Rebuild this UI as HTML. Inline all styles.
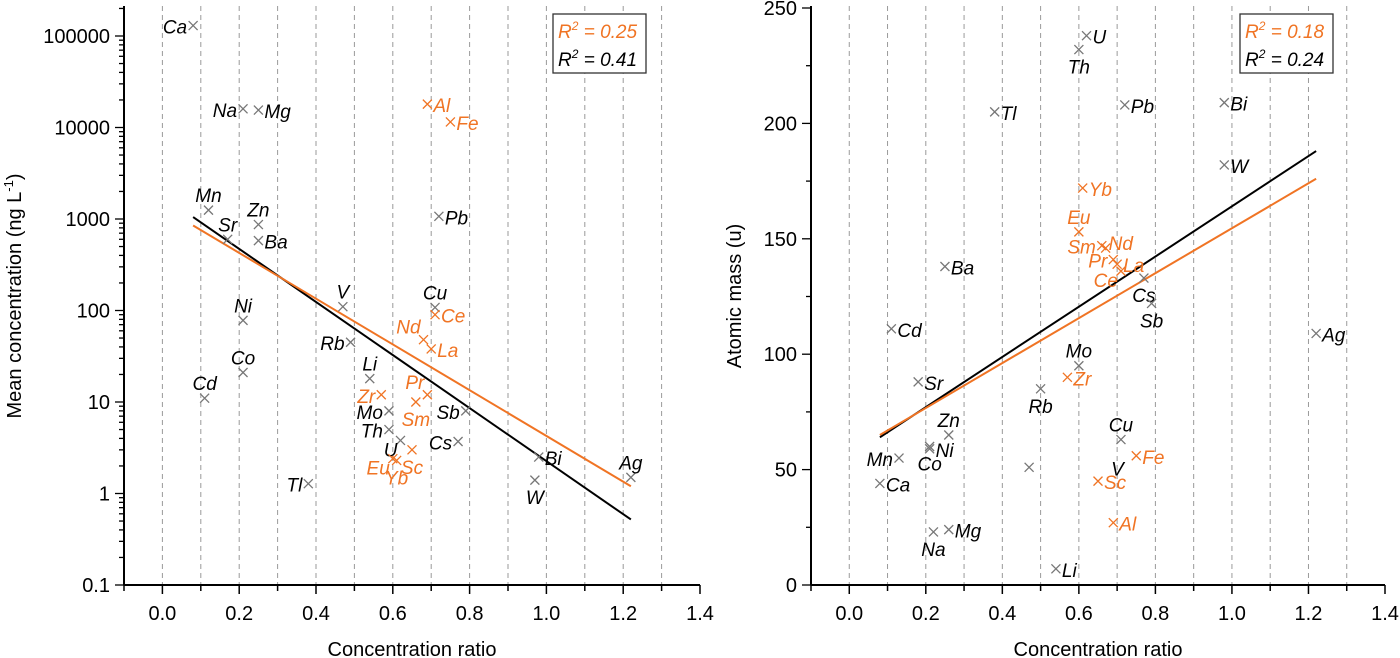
<!DOCTYPE html>
<html><head><meta charset="utf-8">
<style>
html,body{margin:0;padding:0;background:#fff;}
svg{display:block;font-family:"Liberation Sans",Arial,sans-serif;}
</style></head>
<body>
<svg id="chart" width="1400" height="658" viewBox="0 0 1400 658" xmlns="http://www.w3.org/2000/svg"></svg>
<script>
// ---- Left panel data (concentration ratio vs mean concentration) ----
const leftNames = ["Ca","Na","Mg","Mn","Sr","Zn","Ba","Pb","Al","Fe","V","Cu","Ce","Nd","La","Ni","Rb","Co","Li","Cd","Zr","Pr","Sm","Mo","Sb","Th","U","Cs","Sc","Eu","Yb","Bi","W","Ag","Tl"];
const leftX = [0.08,0.21,0.25,0.12,0.17,0.25,0.25,0.72,0.69,0.75,0.47,0.71,0.71,0.68,0.70,0.21,0.49,0.21,0.54,0.11,0.57,0.69,0.66,0.59,0.79,0.59,0.62,0.77,0.65,0.60,0.61,0.98,0.97,1.22,0.38];
const leftY = [130000,16000,15500,1250,600,870,580,1070,18000,11500,110,108,90,48,38,78,45,21,18,11,12,12,10,8,8,5,3.8,3.7,3,2.4,2.3,2.5,1.4,1.5,1.28];
const leftOrange = [0,0,0,0,0,0,0,0,1,1,0,0,1,1,1,0,0,0,0,0,1,1,1,0,0,0,0,0,1,1,1,0,0,0,0];
const leftLabelSide = ["l","l","r","t","t","t","r","r","r","r","t","t","r","tl","r","t","l","t","t","t","l","tl","b","l","l","l","bl","l","b","bl","b","r","b","t","l"];
const leftBlackFit = [[0.08,1050],[1.22,0.52]];
const leftOrangeFit = [[0.08,850],[1.22,1.2]];
const leftR2 = ["0.25","0.41"];
const leftYTicks = [0.1,1,10,100,1000,10000,100000];
const leftYTickLabels = ["0.1","1","10","100","1000","10000","100000"];

// ---- Right panel data (concentration ratio vs atomic mass) ----
const rightNames = ["U","Th","Tl","Pb","Bi","W","Yb","Eu","Nd","Sm","Pr","La","Ce","Ba","Cs","Sb","Cd","Ag","Mo","Zr","Sr","Rb","Zn","Cu","Ni","Co","Fe","Mn","V","Sc","Ca","Al","Mg","Na","Li"];
const rightX = [0.62,0.60,0.38,0.72,0.98,0.98,0.61,0.60,0.67,0.66,0.69,0.70,0.71,0.25,0.77,0.79,0.11,1.22,0.60,0.57,0.18,0.50,0.26,0.71,0.21,0.21,0.75,0.13,0.47,0.65,0.08,0.69,0.26,0.22,0.54];
const rightY = [238,232,205,208,209,182,172,153,146,147,141,139,136,138,133,122,111,109,95,90,88,85,65,63,59,60,56,55,51,45,44,27,24,23,7];
const rightOrange = [0,0,0,0,0,0,1,1,1,1,1,1,1,0,0,0,0,0,0,1,0,0,0,0,0,0,1,0,0,1,0,1,0,0,0];
const rightLabelSide = ["r","b","r","r","r","r","r","t","tr","l","l","r","bl","r","b","b","r","r","t","r","r","b","t","t","r","b","r","l","none","r","r","r","r","b","r"];
const rightBlackFit = [[0.08,64],[1.22,188]];
const rightOrangeFit = [[0.08,65],[1.22,176]];
const rightR2 = ["0.18","0.24"];
const rightYTicks = [0,50,100,150,200,250];

const xTicks = [0.0,0.2,0.4,0.6,0.8,1.0,1.2,1.4];
const xGrid = [0.0,0.1,0.2,0.3,0.4,0.5,0.6,0.7,0.8,0.9,1.0,1.1,1.2,1.3];

const NS="http://www.w3.org/2000/svg";
const svg=document.getElementById('chart');
const ORANGE="#f07424";
function el(tag,attrs,parent,text){const e=document.createElementNS(NS,tag);for(const k in attrs)e.setAttribute(k,attrs[k]);if(text!==undefined)e.textContent=text;(parent||svg).appendChild(e);return e;}

function panel(cfg){
  const g=el('g',{});
  
  
  const X=v=>cfg.x0+(v+0.1)/1.5*(cfg.x1-cfg.x0);
  const Y=cfg.yScale;
  xGrid.forEach(v=>{const l=el('line',{x1:X(v),x2:X(v),y1:cfg.top,y2:cfg.bottom,stroke:'#9a9a9a','stroke-width':1,'stroke-dasharray':'5,4'},g);
    });
  const ya=el('line',{x1:cfg.x0,x2:cfg.x0,y1:cfg.top,y2:cfg.bottom,stroke:'#000','stroke-width':2},g);
  
  const xa=el('line',{x1:cfg.x0,x2:cfg.x1,y1:cfg.bottom,y2:cfg.bottom,stroke:'#000','stroke-width':2},g);
  
  for(let i=-1;i<=14;i++){const v=i/10;const major=(i%2===0);
    el('line',{x1:X(v),x2:X(v),y1:cfg.bottom,y2:cfg.bottom+(major?9:6),stroke:'#000','stroke-width':1.5},g);}
  xTicks.forEach(v=>{const t=el('text',{x:X(v),y:cfg.bottom+35,'font-size':20,'text-anchor':'middle'},g,v.toFixed(1));
    });
  const xt=el('text',{x:(cfg.x0+cfg.x1)/2,y:656,'font-size':20,'text-anchor':'middle'},g,'Concentration ratio');
  
  cfg.yTicks(g,X,Y);
  [[cfg.blackFit,'#000','fit-line-all'],[cfg.orangeFit,ORANGE,'fit-line-subset']].forEach(([f,c,n])=>{
    const l=el('line',{x1:X(f[0][0]),y1:Y(f[0][1]),x2:X(f[1][0]),y2:Y(f[1][1]),stroke:c,'stroke-width':2},g);
    });
  cfg.names.forEach((nm,i)=>{
    const px=X(cfg.xs[i]),py=Y(cfg.ys[i]);const col=cfg.orange[i]?ORANGE:'#777';
    const m=el('path',{d:`M${px-4.5},${py-4.5}L${px+4.5},${py+4.5}M${px-4.5},${py+4.5}L${px+4.5},${py-4.5}`,stroke:col,'stroke-width':1.3,fill:'none'},g);
    
    const s=cfg.side[i];
    let tx=px,ty=py+7,anc='start';
    if(s==='r'){tx=px+6;ty=py+8;}
    else if(s==='l'){tx=px-6;ty=py+8;anc='end';}
    else if(s==='t'){tx=px;ty=py-8;anc='middle';}
    else if(s==='b'){tx=px;ty=py+24;anc='middle';}
    else if(s==='tl'){tx=px-3;ty=py-6;anc='end';}
    else if(s==='tr'){tx=px+3;ty=py+2;}
    else if(s==='bl'){tx=px-3;ty=py+16;anc='end';}
    else if(s==='none'){tx=px+82;ty=py+8;}
    const t=el('text',{x:tx,y:ty,'font-size':19,'font-style':'italic','text-anchor':anc,fill:cfg.orange[i]?ORANGE:'#000'},g,nm);
    
  });
  const lb=el('g',{},g);
  el('rect',{x:cfg.legX,y:14,width:93,height:59,fill:'#fff',stroke:'#333','stroke-width':1.3},lb);
  [[cfg.r2[0],ORANGE,38],[cfg.r2[1],'#000',66]].forEach(([v,c,yy])=>{
    const t=el('text',{x:cfg.legX+5,y:yy,'font-size':19,'font-style':'italic',fill:c},lb);
    
    el('tspan',{},t,'R');el('tspan',{dy:-8,'font-size':12},t,'2');el('tspan',{dy:8},t,' = '+v);
  });
  const yt=el('text',{transform:`translate(${cfg.ytX},${cfg.ytY}) rotate(-90)`,'font-size':20,'text-anchor':'middle'},g);
  
  cfg.yTitle(yt);
}

const LB=585,LDEC=91.5;
panel({name:'left-panel',x0:124,x1:700,top:6,bottom:LB,
  yScale:v=>LB-(Math.log10(v)+1)*LDEC,
  yTicks:(g,X,Y)=>{
    for(let d=-1;d<=5;d++){for(let k=1;k<=9;k++){const v=k*Math.pow(10,d);if(d===5&&k>2)break;
      el('line',{x1:124,x2:124-(k===1?9:5),y1:Y(v),y2:Y(v),stroke:'#000','stroke-width':1.3},g);}}
    leftYTicks.forEach((v,i)=>{const t=el('text',{x:110,y:Y(v)+7,'font-size':20,'text-anchor':'end'},g,leftYTickLabels[i]);
      });
  },
  names:leftNames,xs:leftX,ys:leftY,orange:leftOrange,side:leftLabelSide,
  blackFit:leftBlackFit,orangeFit:leftOrangeFit,r2:leftR2,legX:553,ytX:21,ytY:296,
  yTitle:t=>{el('tspan',{},t,'Mean concentration (ng L');el('tspan',{dy:-8,'font-size':13},t,'-1');el('tspan',{dy:8},t,')');}
});
const RB=585,RPU=(585-8)/250;
panel({name:'right-panel',x0:811,x1:1385,top:6,bottom:RB,
  yScale:v=>RB-v*RPU,
  yTicks:(g,X,Y)=>{
    for(let v=0;v<=250;v+=25){el('line',{x1:811,x2:811-(v%50===0?9:5),y1:Y(v),y2:Y(v),stroke:'#000','stroke-width':1.3},g);}
    rightYTicks.forEach(v=>{const t=el('text',{x:797,y:Y(v)+7,'font-size':20,'text-anchor':'end'},g,String(v));
      });
  },
  names:rightNames,xs:rightX,ys:rightY,orange:rightOrange,side:rightLabelSide,
  blackFit:rightBlackFit,orangeFit:rightOrangeFit,r2:rightR2,legX:1240,ytX:741,ytY:296,
  yTitle:t=>{t.textContent='Atomic mass (u)';}
});
</script>
</body></html>
